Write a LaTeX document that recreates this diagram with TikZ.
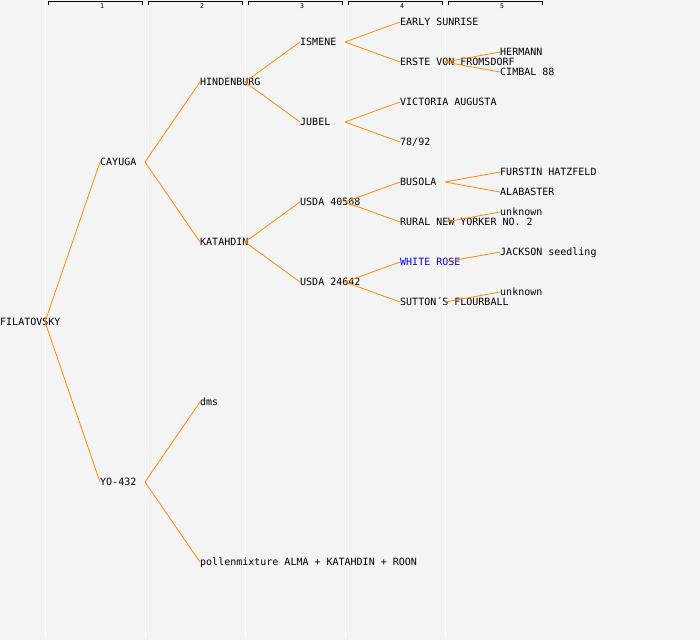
\documentclass[tikz,border=0pt]{standalone}
\usepackage{fontspec}
\usepackage{xcolor}
\newfontfamily\pedfont{DejaVu Sans Mono}
\definecolor{pale-grey}{HTML}{F4F4F4}
\definecolor{tree-orange}{HTML}{FF8A00}
\definecolor{rose-blue}{HTML}{0000FF}
\usepackage{tikz}
\tikzset{plant/.style = {anchor=west, inner sep=0pt, text height=7pt, text depth=0pt}}
\tikzset{sep/.style = {draw=white, line width=1pt}}
\tikzset{gen/.style = {draw=black, line width=0.8pt}}
\tikzset{gennum/.style = {inner sep=0pt, font=\pedfont\fontsize{6.5}{7}\selectfont}}
\tikzset{arr/.style = {draw=tree-orange, line width=0.8pt}}

\begin{document}
\begin{tikzpicture}[x=1pt, y=-1pt,
  font=\pedfont\fontsize{10}{12}\selectfont
]
\useasboundingbox (0,0) rectangle (700,640);
\fill[pale-grey] (0,0) rectangle (700,640);

% column separators and generation brackets
\draw[sep] (45,0) -- (45,638);
\draw[sep] (145,0) -- (145,638);
\draw[sep] (245,0) -- (245,638);
\draw[sep] (345,0) -- (345,638);
\draw[sep] (445,0) -- (445,638);
\draw[gen] (48,4.5) -- (48,1.5) -- (142,1.5) -- (142,4.5);
\draw[gen] (148,4.5) -- (148,1.5) -- (242,1.5) -- (242,4.5);
\draw[gen] (248,4.5) -- (248,1.5) -- (342,1.5) -- (342,4.5);
\draw[gen] (348,4.5) -- (348,1.5) -- (442,1.5) -- (442,4.5);
\draw[gen] (448,4.5) -- (448,1.5) -- (542,1.5) -- (542,4.5);
\node[gennum] (g1) at (102,6.5) {1};
\node[gennum] (g2) at (202,6.5) {2};
\node[gennum] (g3) at (302,6.5) {3};
\node[gennum] (g4) at (402,6.5) {4};
\node[gennum] (g5) at (502,6.5) {5};

\node[plant] (filatovsky) at (0,322) {FILATOVSKY};
\node[plant] (cayuga) at (100,162) {CAYUGA};
\node[plant] (yo432) at (100,482) {YO-432};
\node[plant] (hindenburg) at (200,82) {HINDENBURG};
\node[plant] (katahdin) at (200,242) {KATAHDIN};
\node[plant] (dms) at (200,402) {dms};
\node[plant] (pollen) at (200,562) {pollenmixture ALMA + KATAHDIN + ROON};
\node[plant] (ismene) at (300,42) {ISMENE};
\node[plant] (jubel) at (300,122) {JUBEL};
\node[plant] (usda40568) at (300,202) {USDA 40568};
\node[plant] (usda24642) at (300,282) {USDA 24642};
\node[plant] (early) at (400,22) {EARLY SUNRISE};
\node[plant] (erste) at (400,62) {ERSTE VON FROMSDORF};
\node[plant] (victoria) at (400,102) {VICTORIA AUGUSTA};
\node[plant] (n7892) at (400,142) {78/92};
\node[plant] (busola) at (400,182) {BUSOLA};
\node[plant] (rural) at (400,222) {RURAL NEW YORKER NO. 2};
\node[plant, text=rose-blue] (whiterose) at (400,262) {WHITE ROSE};
\node[plant] (sutton) at (400,302) {SUTTON´S FLOURBALL};
\node[plant] (hermann) at (500,52) {HERMANN};
\node[plant] (cimbal) at (500,72) {CIMBAL 88};
\node[plant] (furstin) at (500,172) {FURSTIN HATZFELD};
\node[plant] (alabaster) at (500,192) {ALABASTER};
\node[plant] (unk1) at (500,212) {unknown};
\node[plant] (jackson) at (500,252) {JACKSON seedling};
\node[plant] (unk2) at (500,292) {unknown};

% fork points, one column right of each parent
\coordinate (filatovsky-f) at (45,322);
\coordinate (cayuga-f) at (145,162);
\coordinate (yo432-f) at (145,482);
\coordinate (hindenburg-f) at (245,82);
\coordinate (katahdin-f) at (245,242);
\coordinate (ismene-f) at (345,42);
\coordinate (jubel-f) at (345,122);
\coordinate (usda40568-f) at (345,202);
\coordinate (usda24642-f) at (345,282);
\coordinate (erste-f) at (445,62);
\coordinate (busola-f) at (445,182);
\coordinate (rural-f) at (445,222);
\coordinate (whiterose-f) at (445,262);
\coordinate (sutton-f) at (445,302);

\draw[arr] (filatovsky-f) -- (cayuga.west);
\draw[arr] (filatovsky-f) -- (yo432.west);
\draw[arr] (cayuga-f) -- (hindenburg.west);
\draw[arr] (cayuga-f) -- (katahdin.west);
\draw[arr] (yo432-f) -- (dms.west);
\draw[arr] (yo432-f) -- (pollen.west);
\draw[arr] (hindenburg-f) -- (ismene.west);
\draw[arr] (hindenburg-f) -- (jubel.west);
\draw[arr] (katahdin-f) -- (usda40568.west);
\draw[arr] (katahdin-f) -- (usda24642.west);
\draw[arr] (ismene-f) -- (early.west);
\draw[arr] (ismene-f) -- (erste.west);
\draw[arr] (jubel-f) -- (victoria.west);
\draw[arr] (jubel-f) -- (n7892.west);
\draw[arr] (usda40568-f) -- (busola.west);
\draw[arr] (usda40568-f) -- (rural.west);
\draw[arr] (usda24642-f) -- (whiterose.west);
\draw[arr] (usda24642-f) -- (sutton.west);
\draw[arr] (erste-f) -- (hermann.west);
\draw[arr] (erste-f) -- (cimbal.west);
\draw[arr] (busola-f) -- (furstin.west);
\draw[arr] (busola-f) -- (alabaster.west);
\draw[arr] (rural-f) -- (unk1.west);
\draw[arr] (whiterose-f) -- (jackson.west);
\draw[arr] (sutton-f) -- (unk2.west);

\end{tikzpicture}
\end{document}
